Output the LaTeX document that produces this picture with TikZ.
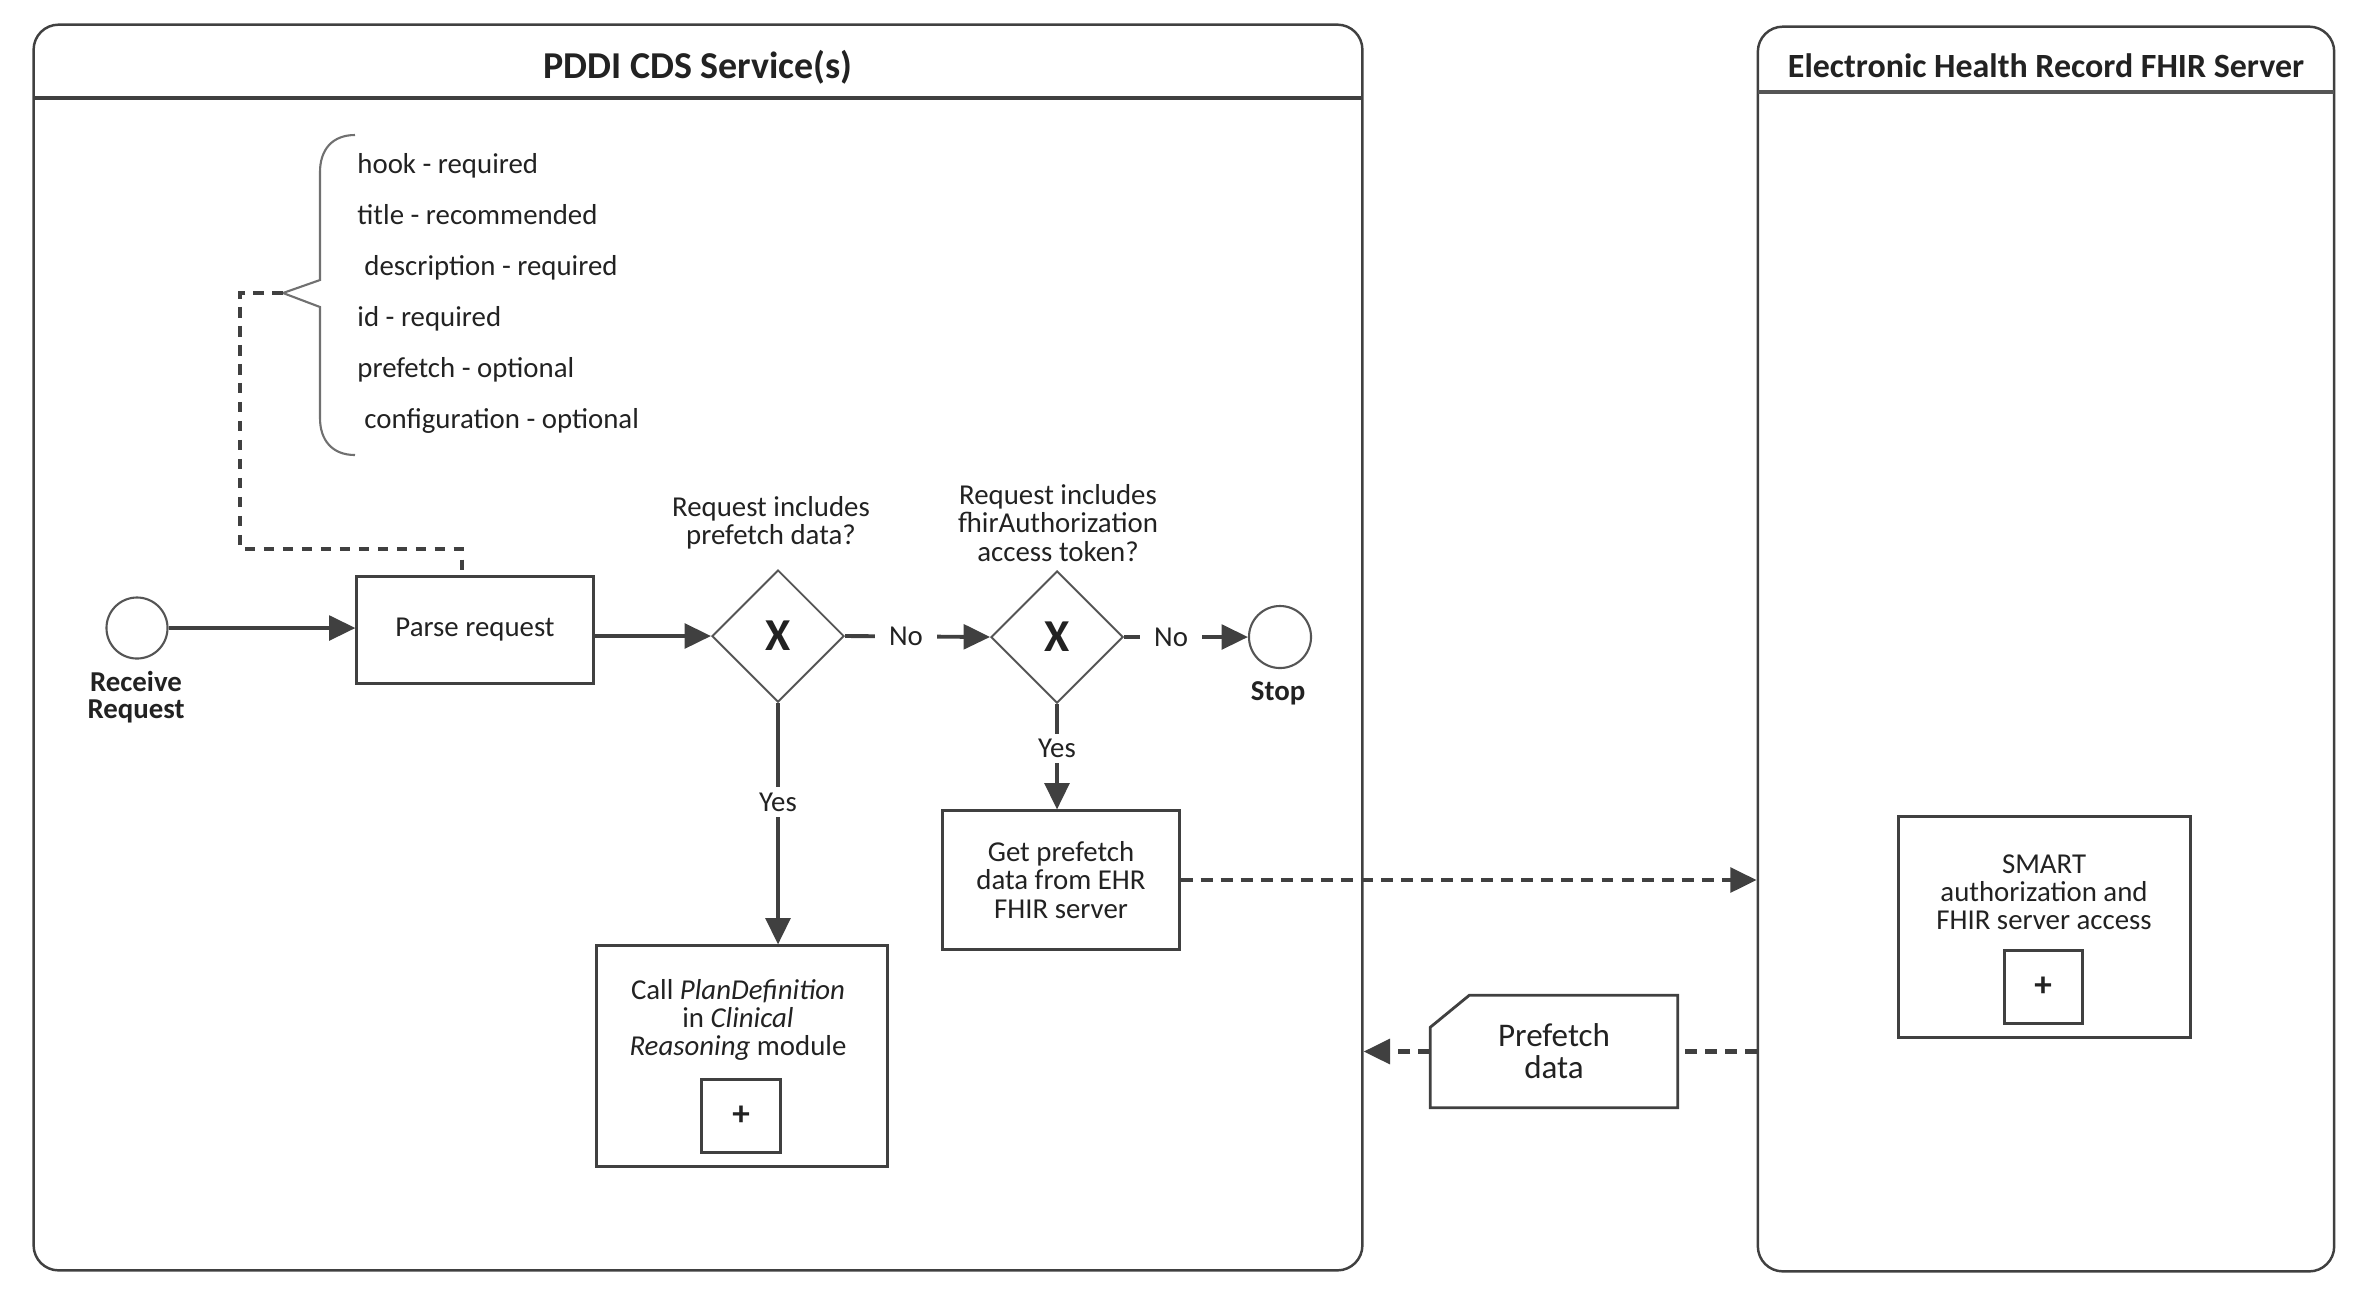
\documentclass[tikz,border=0pt]{standalone}
\usepackage{fontspec}
\setmainfont{Carlito}
\usetikzlibrary{shapes.geometric,arrows.meta}

\definecolor{linegray}{HTML}{404040}
\definecolor{gwgray}{HTML}{555555}
\definecolor{bracegray}{HTML}{707070}
\definecolor{textgray}{HTML}{222222}

\tikzset{
  pool/.style={draw=linegray, line width=0.7pt, rounded corners=0.25cm},
  task/.style={draw=linegray, line width=0.85pt, rectangle, align=center, inner sep=0pt},
  gateway/.style={draw=gwgray, line width=0.55pt, diamond, minimum width=1.32cm, minimum height=1.32cm,
    inner sep=0pt, font=\bfseries\fontsize{13}{13}\selectfont},
  event/.style={draw=gwgray, line width=0.6pt, circle, minimum size=0.61cm, inner sep=0pt},
  evlabel/.style={font=\bfseries\fontsize{8.2}{7.6}\selectfont, align=center},
  subproc/.style={draw=linegray, line width=0.85pt, minimum width=0.78cm, minimum height=0.73cm,
    inner sep=0pt, font=\bfseries\fontsize{10}{10}\selectfont},
  flow/.style={draw=linegray, line width=1.1pt, -{Triangle[length=7.5pt,width=7pt]}},
  msg/.style={draw=linegray, line width=1.25pt, dash pattern=on 3.4pt off 2.3pt,
    -{Triangle[length=7.5pt,width=7pt]}},
  msgline/.style={draw=linegray, line width=1.25pt, dash pattern=on 3.4pt off 2.3pt},
  assoc/.style={draw=linegray, line width=1.1pt, dash pattern=on 3pt off 2.4pt},
  lbl/.style={fill=white, inner xsep=4pt, inner ysep=1.5pt}
}

\begin{document}
\begin{tikzpicture}[x=0.01cm, y=-0.01cm, font=\fontsize{8.2}{8}\selectfont, text=textgray]
  \useasboundingbox (0,0) rectangle (2380,1296);

  % pools
  \node[pool, minimum width=13.28cm, minimum height=12.45cm] (cds) at (698,647.5) {};
  \node[pool, minimum width=5.76cm, minimum height=12.44cm] (ehr) at (2046,649) {};
  \draw[linegray, line width=0.9pt] (34,98) -- (1362,98);
  \draw[gwgray, line width=1.3pt] (1758,92) -- (2334,92);
  \node[font=\bfseries\fontsize{10.8}{12}\selectfont] (cdstitle) at (698,67) {PDDI CDS Service(s)};
  \node[font=\bfseries\fontsize{9.65}{11}\selectfont] (ehrtitle) at (2046,66) {Electronic Health Record FHIR Server};

  % service definition fields
  \draw[bracegray, line width=0.6pt] (355,135) .. controls (332,135) and (320,150) .. (320,172)
    -- (320,280) -- (283,293) -- (320,307) -- (320,418) .. controls (320,440) and (332,455) .. (355,455);
  \coordinate (bracetip) at (283,293);
  \node[anchor=west, align=left, font=\fontsize{8.2}{14.5}\selectfont] (fields) at (345,293)
    {hook - required\\title - recommended\\\hspace*{2pt}description - required\\id - required\\
     prefetch - optional\\\hspace*{2pt}configuration - optional};

  % main flow
  \node[event] (start) at (137,628) {};
  \node[evlabel] (startlbl) at (136,697) {Receive\\Request};
  \node[task, minimum width=2.36cm, minimum height=1.06cm] (parse) at (475,630) {Parse request};
  \node[gateway] (d1) at (778,636) {X};
  \node[align=center] (q1) at (771,523) {Request includes\\prefetch data?};
  \node[gateway] (d2) at (1057,637) {X};
  \node[align=center] (q2) at (1058,523) {Request includes\\fhirAuthorization\\access token?};
  \node[event, minimum size=0.62cm] (stop) at (1280,637) {};
  \node[evlabel] (stoplbl) at (1278,693) {Stop};

  \node[task, minimum width=2.36cm, minimum height=1.38cm] (getdata) at (1061,880)
    {Get prefetch\\data from EHR\\FHIR server};

  \node[task, minimum width=2.9cm, minimum height=2.2cm] (callpd) at (742,1056) {};
  \node[align=center] (calltxt) at (738,1020)
    {Call \textit{PlanDefinition}\\in \textit{Clinical}\\\textit{Reasoning} module};
  \node[subproc] (callplus) at (741,1116) {+};

  % EHR side
  \node[task, minimum width=2.91cm, minimum height=2.2cm] (smart) at (2044.5,927) {};
  \node[align=center] (smarttxt) at (2044,892) {SMART\\authorization and\\FHIR server access};
  \node[subproc] (smartplus) at (2043,987) {+};

  % data object
  \node[minimum width=2.46cm, minimum height=1.11cm, inner sep=0pt, align=center,
    font=\fontsize{9.4}{9.1}\selectfont] (pd) at (1554,1051.5) {Prefetch\\data};
  \draw[linegray, line width=0.8pt] ([xshift=0.39cm]pd.north west) -- (pd.north east) -- (pd.south east)
    -- (pd.south west) -- ([yshift=-0.32cm]pd.north west) -- cycle;

  % connectors
  \draw[assoc] (bracetip) -- (240,293) -- (240,549) -- (462,549) -- (462,577);
  \draw[flow] (start) -- (start -| parse.west);
  \draw[flow] (parse.east |- d1) -- (d1.west);
  \draw[flow] (d1.east) -- node[lbl, pos=0.42] {No} (d2.west);
  \draw[flow] (d2.east) -- node[lbl, pos=0.38] {No} (stop.west);
  \draw[flow] (d1.south) -- node[lbl, pos=0.41] {Yes} (d1.south |- callpd.north);
  \draw[flow] (d2.south) -- node[lbl, pos=0.42] {Yes} (d2.south |- getdata.north);
  \draw[msg] (getdata.east) -- (getdata.east -| ehr.west);
  \draw[msgline] (ehr.west |- pd.east) -- (pd.east);
  \draw[msg] (pd.west) -- (pd.west -| cds.east);
\end{tikzpicture}
\end{document}
